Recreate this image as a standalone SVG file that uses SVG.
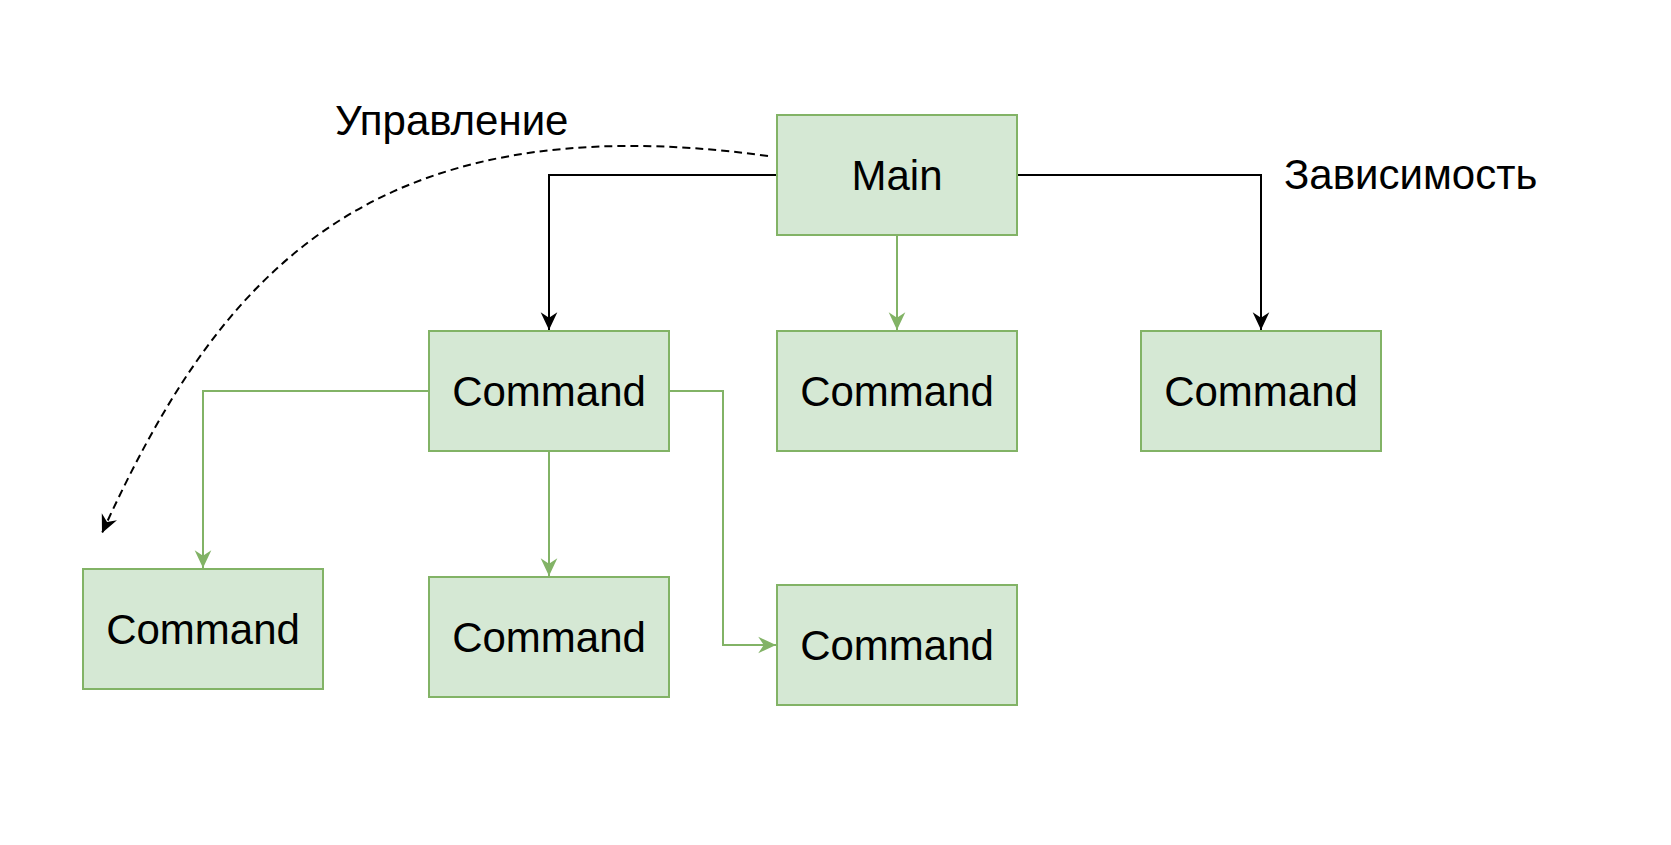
<svg xmlns="http://www.w3.org/2000/svg" width="1671" height="845" viewBox="0 0 1671 845">
<style>
.box{fill:#d5e8d4;stroke:#82b366;stroke-width:2}
.lbl{font-family:"Liberation Sans",Arial,sans-serif;font-size:42px;fill:#000}
.c{text-anchor:middle}
.blk{fill:none;stroke:#000;stroke-width:2}
.grn{fill:none;stroke:#82b366;stroke-width:2}
.dash{fill:none;stroke:#000;stroke-width:2;stroke-dasharray:8 5}
</style>
<defs>
<marker id="ab" markerUnits="userSpaceOnUse" markerWidth="20" markerHeight="20" viewBox="-17 -9 18 18" refX="0" refY="0" orient="auto">
<path d="M0,0 L-16,-7.5 L-11,0 L-16,7.5 Z" fill="#000"/>
</marker>
<marker id="ag" markerUnits="userSpaceOnUse" markerWidth="20" markerHeight="20" viewBox="-17 -9 18 18" refX="0" refY="0" orient="auto">
<path d="M0,0 L-16,-7.5 L-11,0 L-16,7.5 Z" fill="#82b366"/>
</marker>
</defs>
<rect width="1671" height="845" fill="#fff"/>
<g id="connectors">
<path class="blk" d="M777,175 H549 V330" marker-end="url(#ab)"/>
<path class="blk" d="M1017,175 H1261 V330" marker-end="url(#ab)"/>
<path class="grn" d="M897,235 V330" marker-end="url(#ag)"/>
<path class="grn" d="M429,391 H203 V568" marker-end="url(#ag)"/>
<path class="grn" d="M549,451 V576" marker-end="url(#ag)"/>
<path class="grn" d="M669,391 H723 V645 H776" marker-end="url(#ag)"/>
<path class="dash" d="M768,156 C360,100 215,285 102,533" marker-end="url(#ab)"/>
</g>
<g id="label-upravlenie"><text class="lbl" x="335" y="135">Управление</text></g>
<g id="label-zavisimost"><text class="lbl" x="1284" y="189">Зависимость</text></g>
<g id="main"><rect class="box" x="777" y="115" width="240" height="120"/><text class="lbl c" x="897" y="190">Main</text></g>
<g id="cmd1"><rect class="box" x="429" y="331" width="240" height="120"/><text class="lbl c" x="549" y="406">Command</text></g>
<g id="cmd2"><rect class="box" x="777" y="331" width="240" height="120"/><text class="lbl c" x="897" y="406">Command</text></g>
<g id="cmd3"><rect class="box" x="1141" y="331" width="240" height="120"/><text class="lbl c" x="1261" y="406">Command</text></g>
<g id="cmd4"><rect class="box" x="83" y="569" width="240" height="120"/><text class="lbl c" x="203" y="644">Command</text></g>
<g id="cmd5"><rect class="box" x="429" y="577" width="240" height="120"/><text class="lbl c" x="549" y="652">Command</text></g>
<g id="cmd6"><rect class="box" x="777" y="585" width="240" height="120"/><text class="lbl c" x="897" y="660">Command</text></g>
</svg>
